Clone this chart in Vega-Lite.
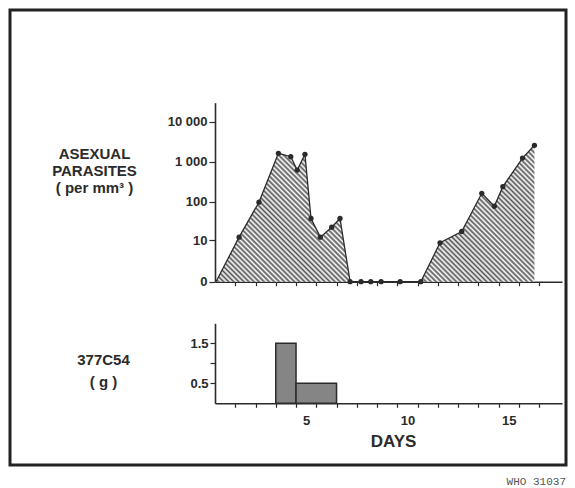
{
  "$schema": "https://vega.github.io/schema/vega-lite/v6.json",
  "width": 556,
  "height": 455,
  "autosize": "none",
  "padding": {"left": 10, "top": 10, "right": 9, "bottom": 23},
  "background": "white",
  "title": {"text": "WHO 31037", "orient": "bottom", "anchor": "end", "frame": "group", "offset": 11, "font": "Liberation Mono", "fontSize": 11, "fontWeight": "normal", "color": "#555"},
  "config": {
    "view": {"stroke": "#222", "strokeWidth": 3},
    "axis": {"grid": false, "zindex": 1, "domainColor": "#2b2b2b", "domainWidth": 1.6, "tickColor": "#2b2b2b", "tickWidth": 1.2, "labelFont": "Liberation Sans", "labelFontWeight": "bold", "labelFontSize": 13, "labelColor": "#2b2b2b", "titleFont": "Liberation Sans", "titleFontWeight": "bold", "titleColor": "#2b2b2b"}
  },
  "layer": [
    {
      "data": {"values": [
        {"day": 0.55, "parasites": 0},
        {"day": 1.69, "parasites": 12},
        {"day": 2.67, "parasites": 96},
        {"day": 3.63, "parasites": 1620},
        {"day": 4.24, "parasites": 1330},
        {"day": 4.56, "parasites": 615},
        {"day": 4.94, "parasites": 1530},
        {"day": 5.24, "parasites": 37},
        {"day": 5.70, "parasites": 12},
        {"day": 6.26, "parasites": 22},
        {"day": 6.67, "parasites": 37},
        {"day": 7.17, "parasites": 0},
        {"day": 7.71, "parasites": 0},
        {"day": 8.19, "parasites": 0},
        {"day": 8.70, "parasites": 0},
        {"day": 9.64, "parasites": 0},
        {"day": 10.66, "parasites": 0},
        {"day": 11.61, "parasites": 8.4},
        {"day": 12.68, "parasites": 17},
        {"day": 13.67, "parasites": 161},
        {"day": 14.29, "parasites": 76},
        {"day": 14.71, "parasites": 237},
        {"day": 15.68, "parasites": 1230},
        {"day": 16.27, "parasites": 2570}
      ]},
      "encoding": {
        "x": {"field": "day", "type": "quantitative",
          "scale": {"domain": [0.5, 17.63], "range": [205, 552], "nice": false, "zero": false},
          "axis": {"orient": "bottom", "offset": -183.3, "values": [1.5, 2.5, 3.5, 4.5, 5.5, 6.5, 7.5, 8.5, 9.5, 10.5, 11.5, 12.5, 13.5, 14.5, 15.5, 16.5], "labels": false, "tickSize": 4, "title": null}},
        "y": {"field": "parasites", "type": "quantitative",
          "scale": {"type": "symlog", "constant": 1, "domain": [0, 29850], "range": [271.7, 92.7], "nice": false},
          "axis": {"orient": "left", "offset": -205, "values": [0, 10, 100, 1000, 10000],
            "labelExpr": "datum.value==10000?'10 000':datum.value==1000?'1 000':datum.value==100?'100':datum.value==10?'10':'0'",
            "tickSize": 6, "labelPadding": 2,
            "title": ["ASEXUAL", "PARASITES", "( per mm³ )"], "titleAngle": 0, "titleAlign": "center", "titleBaseline": "top", "titleX": -121, "titleY": 136, "titleFontSize": 15, "titleLineHeight": 17}}
      },
      "layer": [
        {"mark": {"type": "area", "strokeWidth": 0, "fill": {"gradient": "linear", "x1": 0, "y1": 1, "x2": 1.207, "y2": 0.481, "stops": [
          {"offset": 0, "color": "#fff"}, {"offset": 0.0056, "color": "#555"}, {"offset": 0.0111, "color": "#fff"}, {"offset": 0.0167, "color": "#555"}, {"offset": 0.0222, "color": "#fff"}, {"offset": 0.0278, "color": "#555"}, {"offset": 0.0333, "color": "#fff"}, {"offset": 0.0389, "color": "#555"}, {"offset": 0.0444, "color": "#fff"}, {"offset": 0.05, "color": "#555"}, {"offset": 0.0556, "color": "#fff"}, {"offset": 0.0611, "color": "#555"}, {"offset": 0.0667, "color": "#fff"}, {"offset": 0.0722, "color": "#555"}, {"offset": 0.0778, "color": "#fff"}, {"offset": 0.0833, "color": "#555"}, {"offset": 0.0889, "color": "#fff"}, {"offset": 0.0944, "color": "#555"},
          {"offset": 0.1, "color": "#fff"}, {"offset": 0.1056, "color": "#555"}, {"offset": 0.1111, "color": "#fff"}, {"offset": 0.1167, "color": "#555"}, {"offset": 0.1222, "color": "#fff"}, {"offset": 0.1278, "color": "#555"}, {"offset": 0.1333, "color": "#fff"}, {"offset": 0.1389, "color": "#555"}, {"offset": 0.1444, "color": "#fff"}, {"offset": 0.15, "color": "#555"}, {"offset": 0.1556, "color": "#fff"}, {"offset": 0.1611, "color": "#555"}, {"offset": 0.1667, "color": "#fff"}, {"offset": 0.1722, "color": "#555"}, {"offset": 0.1778, "color": "#fff"}, {"offset": 0.1833, "color": "#555"}, {"offset": 0.1889, "color": "#fff"}, {"offset": 0.1944, "color": "#555"},
          {"offset": 0.2, "color": "#fff"}, {"offset": 0.2056, "color": "#555"}, {"offset": 0.2111, "color": "#fff"}, {"offset": 0.2167, "color": "#555"}, {"offset": 0.2222, "color": "#fff"}, {"offset": 0.2278, "color": "#555"}, {"offset": 0.2333, "color": "#fff"}, {"offset": 0.2389, "color": "#555"}, {"offset": 0.2444, "color": "#fff"}, {"offset": 0.25, "color": "#555"}, {"offset": 0.2556, "color": "#fff"}, {"offset": 0.2611, "color": "#555"}, {"offset": 0.2667, "color": "#fff"}, {"offset": 0.2722, "color": "#555"}, {"offset": 0.2778, "color": "#fff"}, {"offset": 0.2833, "color": "#555"}, {"offset": 0.2889, "color": "#fff"}, {"offset": 0.2944, "color": "#555"},
          {"offset": 0.3, "color": "#fff"}, {"offset": 0.3056, "color": "#555"}, {"offset": 0.3111, "color": "#fff"}, {"offset": 0.3167, "color": "#555"}, {"offset": 0.3222, "color": "#fff"}, {"offset": 0.3278, "color": "#555"}, {"offset": 0.3333, "color": "#fff"}, {"offset": 0.3389, "color": "#555"}, {"offset": 0.3444, "color": "#fff"}, {"offset": 0.35, "color": "#555"}, {"offset": 0.3556, "color": "#fff"}, {"offset": 0.3611, "color": "#555"}, {"offset": 0.3667, "color": "#fff"}, {"offset": 0.3722, "color": "#555"}, {"offset": 0.3778, "color": "#fff"}, {"offset": 0.3833, "color": "#555"}, {"offset": 0.3889, "color": "#fff"}, {"offset": 0.3944, "color": "#555"},
          {"offset": 0.4, "color": "#fff"}, {"offset": 0.4056, "color": "#555"}, {"offset": 0.4111, "color": "#fff"}, {"offset": 0.4167, "color": "#555"}, {"offset": 0.4222, "color": "#fff"}, {"offset": 0.4278, "color": "#555"}, {"offset": 0.4333, "color": "#fff"}, {"offset": 0.4389, "color": "#555"}, {"offset": 0.4444, "color": "#fff"}, {"offset": 0.45, "color": "#555"}, {"offset": 0.4556, "color": "#fff"}, {"offset": 0.4611, "color": "#555"}, {"offset": 0.4667, "color": "#fff"}, {"offset": 0.4722, "color": "#555"}, {"offset": 0.4778, "color": "#fff"}, {"offset": 0.4833, "color": "#555"}, {"offset": 0.4889, "color": "#fff"}, {"offset": 0.4944, "color": "#555"},
          {"offset": 0.5, "color": "#fff"}, {"offset": 0.5056, "color": "#555"}, {"offset": 0.5111, "color": "#fff"}, {"offset": 0.5167, "color": "#555"}, {"offset": 0.5222, "color": "#fff"}, {"offset": 0.5278, "color": "#555"}, {"offset": 0.5333, "color": "#fff"}, {"offset": 0.5389, "color": "#555"}, {"offset": 0.5444, "color": "#fff"}, {"offset": 0.55, "color": "#555"}, {"offset": 0.5556, "color": "#fff"}, {"offset": 0.5611, "color": "#555"}, {"offset": 0.5667, "color": "#fff"}, {"offset": 0.5722, "color": "#555"}, {"offset": 0.5778, "color": "#fff"}, {"offset": 0.5833, "color": "#555"}, {"offset": 0.5889, "color": "#fff"}, {"offset": 0.5944, "color": "#555"},
          {"offset": 0.6, "color": "#fff"}, {"offset": 0.6056, "color": "#555"}, {"offset": 0.6111, "color": "#fff"}, {"offset": 0.6167, "color": "#555"}, {"offset": 0.6222, "color": "#fff"}, {"offset": 0.6278, "color": "#555"}, {"offset": 0.6333, "color": "#fff"}, {"offset": 0.6389, "color": "#555"}, {"offset": 0.6444, "color": "#fff"}, {"offset": 0.65, "color": "#555"}, {"offset": 0.6556, "color": "#fff"}, {"offset": 0.6611, "color": "#555"}, {"offset": 0.6667, "color": "#fff"}, {"offset": 0.6722, "color": "#555"}, {"offset": 0.6778, "color": "#fff"}, {"offset": 0.6833, "color": "#555"}, {"offset": 0.6889, "color": "#fff"}, {"offset": 0.6944, "color": "#555"},
          {"offset": 0.7, "color": "#fff"}, {"offset": 0.7056, "color": "#555"}, {"offset": 0.7111, "color": "#fff"}, {"offset": 0.7167, "color": "#555"}, {"offset": 0.7222, "color": "#fff"}, {"offset": 0.7278, "color": "#555"}, {"offset": 0.7333, "color": "#fff"}, {"offset": 0.7389, "color": "#555"}, {"offset": 0.7444, "color": "#fff"}, {"offset": 0.75, "color": "#555"}, {"offset": 0.7556, "color": "#fff"}, {"offset": 0.7611, "color": "#555"}, {"offset": 0.7667, "color": "#fff"}, {"offset": 0.7722, "color": "#555"}, {"offset": 0.7778, "color": "#fff"}, {"offset": 0.7833, "color": "#555"}, {"offset": 0.7889, "color": "#fff"}, {"offset": 0.7944, "color": "#555"},
          {"offset": 0.8, "color": "#fff"}, {"offset": 0.8056, "color": "#555"}, {"offset": 0.8111, "color": "#fff"}, {"offset": 0.8167, "color": "#555"}, {"offset": 0.8222, "color": "#fff"}, {"offset": 0.8278, "color": "#555"}, {"offset": 0.8333, "color": "#fff"}, {"offset": 0.8389, "color": "#555"}, {"offset": 0.8444, "color": "#fff"}, {"offset": 0.85, "color": "#555"}, {"offset": 0.8556, "color": "#fff"}, {"offset": 0.8611, "color": "#555"}, {"offset": 0.8667, "color": "#fff"}, {"offset": 0.8722, "color": "#555"}, {"offset": 0.8778, "color": "#fff"}, {"offset": 0.8833, "color": "#555"}, {"offset": 0.8889, "color": "#fff"}, {"offset": 0.8944, "color": "#555"},
          {"offset": 0.9, "color": "#fff"}, {"offset": 0.9056, "color": "#555"}, {"offset": 0.9111, "color": "#fff"}, {"offset": 0.9167, "color": "#555"}, {"offset": 0.9222, "color": "#fff"}, {"offset": 0.9278, "color": "#555"}, {"offset": 0.9333, "color": "#fff"}, {"offset": 0.9389, "color": "#555"}, {"offset": 0.9444, "color": "#fff"}, {"offset": 0.95, "color": "#555"}, {"offset": 0.9556, "color": "#fff"}, {"offset": 0.9611, "color": "#555"}, {"offset": 0.9667, "color": "#fff"}, {"offset": 0.9722, "color": "#555"}, {"offset": 0.9778, "color": "#fff"}, {"offset": 0.9833, "color": "#555"}, {"offset": 0.9889, "color": "#fff"}, {"offset": 0.9944, "color": "#555"},
          {"offset": 1, "color": "#fff"}
        ]}}},
        {"mark": {"type": "line", "stroke": "#2b2b2b", "strokeWidth": 1.3}},
        {"transform": [{"filter": "datum.day > 1"}], "mark": {"type": "point", "filled": true, "size": 28, "color": "#2b2b2b", "opacity": 1}}
      ]
    },
    {
      "data": {"values": [
        {"start": 3.5, "end": 4.5, "dose": 1.5},
        {"start": 4.5, "end": 6.5, "dose": 0.5}
      ]},
      "mark": {"type": "rect", "fill": "#858585", "stroke": "#2b2b2b", "strokeWidth": 1.5},
      "encoding": {
        "x": {"field": "start", "type": "quantitative",
          "scale": {"domain": [0.5, 17.63], "range": [205, 552], "nice": false, "zero": false},
          "axis": {"orient": "bottom", "offset": -61.7, "values": [1.5, 2.5, 3.5, 4.5, 5.5, 6.5, 7.5, 8.5, 9.5, 10.5, 11.5, 12.5, 13.5, 14.5, 15.5, 16.5],
            "labelExpr": "datum.value==4.5?'5':datum.value==9.5?'10':datum.value==14.5?'15':''",
            "labelOffset": 10.1, "labelPadding": 7, "tickSize": 4, "labelFlush": false, "labelOverlap": false,
            "title": "DAYS", "titleFontSize": 17, "titleX": 383, "titleY": 38, "titleAlign": "center", "titleBaseline": "middle"}},
        "x2": {"field": "end"},
        "y": {"field": "dose", "type": "quantitative",
          "scale": {"domain": [0, 2], "range": [393.3, 313.3], "nice": false},
          "axis": {"orient": "left", "offset": -205, "values": [0.5, 1, 1.5],
            "labelExpr": "datum.value==1?'':datum.value==0.5?'0.5':'1.5'",
            "tickSize": 5, "labelPadding": 2,
            "title": ["377C54", "( g )"], "titleAngle": 0, "titleAlign": "center", "titleBaseline": "top", "titleX": -112, "titleY": 342, "titleFontSize": 15, "titleLineHeight": 22}},
        "y2": {"datum": 0}
      }
    }
  ],
  "resolve": {"scale": {"y": "independent"}, "axis": {"x": "independent", "y": "independent"}}
}
